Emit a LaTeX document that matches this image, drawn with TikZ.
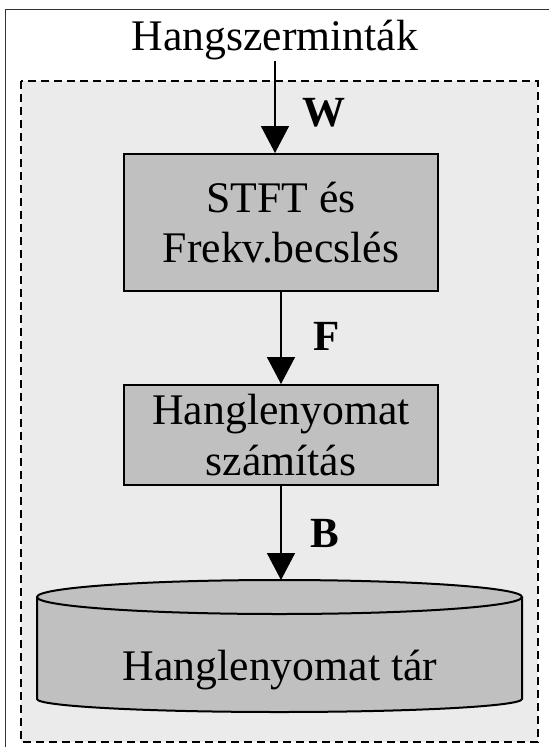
\documentclass[tikz,border=0pt]{standalone}
\usepackage{fontspec}
\setmainfont{Liberation Serif}
\usetikzlibrary{arrows.meta,positioning}
\definecolor{bggray}{HTML}{EBEBEB}
\definecolor{boxgray}{HTML}{C0C0C0}
\tikzset{
    stage/.style ={
        shape=rectangle,
        draw=black,
        fill=boxgray,
        line width=2pt,
        minimum width=314pt,
        align=center,
        inner sep=0pt,
        font=\fontsize{43.7}{50.5}\selectfont
    },
    flow/.style ={
        -{Triangle[length=27pt,width=28pt]},
        line width=1.6pt
    },
    lbl/.style ={
        font=\fontsize{43}{50}\selectfont\bfseries,
        inner sep=0pt
    }
}

\begin{document}
\begin{tikzpicture}[x=1pt,y=-1pt]
    \useasboundingbox (0,0) rectangle (549,747);
    \draw[line width=1pt,black!80] (549,9.5) -| (5.5,747);
    \draw[fill=bggray,line width=2pt,dash pattern=on 8pt off 5pt] (21,81) rectangle (537.5,742);
    \node[anchor=base,inner sep=1.5pt,font=\fontsize{43.7}{50.5}\selectfont] (title) at(275,50) {Hangszerminták};
    \node[stage,minimum height=137pt] (stft) at(281,222.5) {STFT és\\Frekv.becslés};
    \node[stage,minimum height=100pt] (calc) at(281,435) {Hanglenyomat\\számítás};
    % the store
    \draw[fill=boxgray,line width=2pt] (37,597) -- (37,699) arc[start angle=180,end angle=360,x radius=242.5pt,y radius=13pt] -- (522,597);
    \draw[fill=boxgray,line width=2pt] (279.5,597) ellipse[x radius=242.5pt,y radius=17pt];
    \node[anchor=base,font=\fontsize{43.7}{50.5}\selectfont] (store) at(280,680) {Hanglenyomat tár};
    \coordinate (storetop) at(281,580);
    \draw[flow] (title) -- (title |- stft.north);
    \draw[flow] (stft) -- (calc);
    \draw[flow] (calc) -- (storetop);
    \node[lbl,above right=27pt and 21pt of stft.north,anchor=base west] (wlbl) {W};
    \node[lbl,above right=34pt and 32pt of calc.north,anchor=base west] (flbl) {F};
    \node[lbl,above right=33pt and 29pt of storetop,anchor=base west] (blbl) {B};
\end{tikzpicture}
\end{document}
